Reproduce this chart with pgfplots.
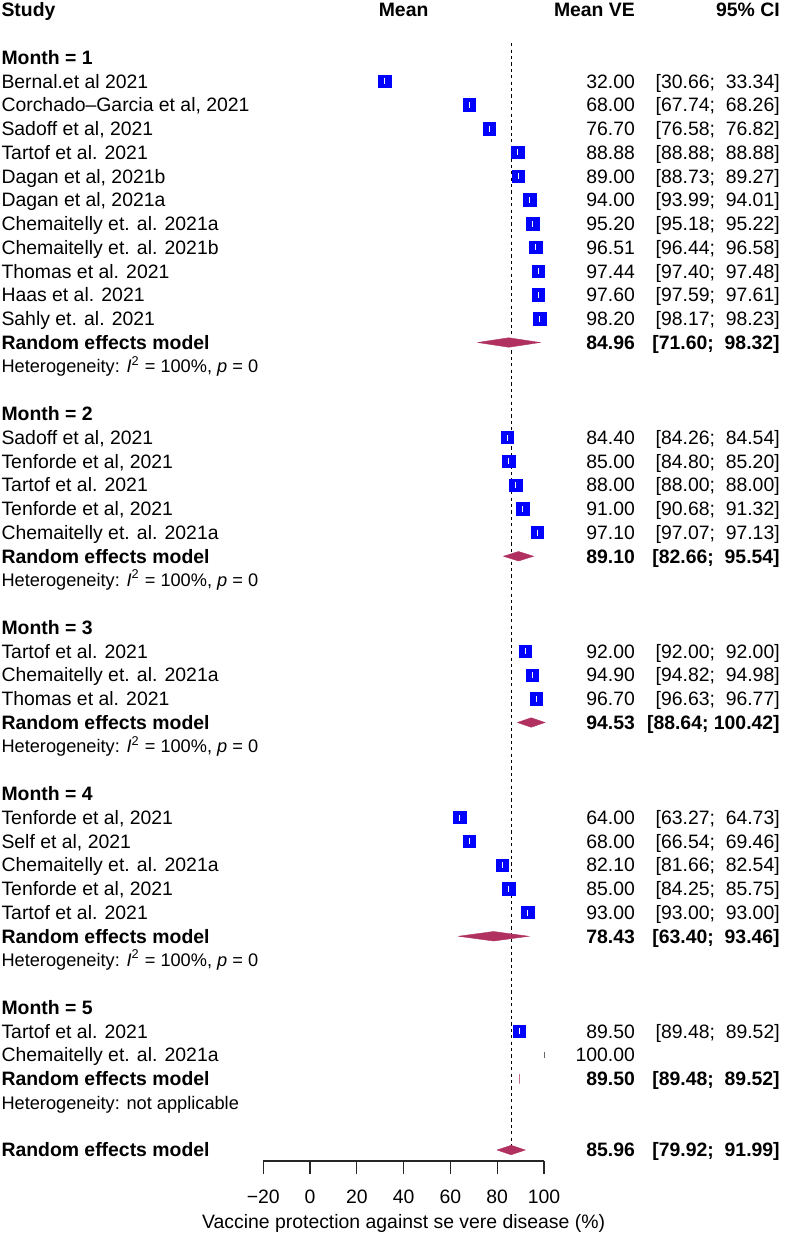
\documentclass[border=0pt]{standalone}
\usepackage{pgfplots}
\pgfplotsset{compat=1.18}
\usepackage{fontspec}
\setmainfont{Liberation Sans}
\definecolor{vblue}{RGB}{0,0,255}
\definecolor{dmaroon}{RGB}{176,48,96}
\newcommand\fs{\fontsize{9.7}{11}\selectfont}
\newcommand\fh{\fontsize{9.1}{10}\selectfont}
\newcommand\St[2]{\node[anchor=base west,yshift=-3.45pt,font=\fs,inner sep=0pt] at (axis cs:-132.0,-#1) {#2};}
\newcommand\Mv[2]{\node[anchor=base east,yshift=-3.45pt,font=\fs,inner sep=0pt] at (axis cs:139.0,-#1) {#2};}
\newcommand\Ci[2]{\node[anchor=base east,yshift=-3.45pt,font=\fs,inner sep=0pt] at (axis cs:200.9,-#1) {#2};}
\newcommand\Het[2]{\node[anchor=base west,yshift=-3.3pt,font=\fh,inner sep=0pt] at (axis cs:-132.0,-#1) {#2};}
\newcommand\HS{Heterogeneity: \textit{I}\textsuperscript{2} = 100\%, \textit{p} = 0}
\begin{document}
\begin{tikzpicture}
\begin{axis}[
  x=1.17pt, y=11.875pt,
  xmin=-20, xmax=100, ymin=-48.46, ymax=0,
  axis x line=bottom, axis y line=none,
  x axis line style={-, line width=0.6pt, black!85},
  clip=false,
  xtick={-20,0,20,40,60,80,100},
  xticklabels={−20,0,20,40,60,80,100},
  tick align=outside, major tick length=6.5pt,
  tick style={line width=0.6pt, black!85},
  xticklabel style={font=\fs, anchor=base, inner sep=0pt, yshift=-15pt},
  xlabel={Vaccine protection against se vere disease (\%)},
  xlabel style={font=\fs, at={(axis description cs:0.5,0)}, anchor=base, inner sep=0pt, yshift=-34pt},
]
% bounding box of the whole picture
\path (axis cs:-132.48,0.421) rectangle (axis cs:202.56,-51.62);

% reference (overall) line
\addplot[black, line width=0.6pt, dash pattern=on 1.6pt off 1.6pt] coordinates {(85.96,-1.4) (85.96,-48.2)};

% study squares
\addplot[only marks, mark=square*, mark size=3.1pt, mark options={fill=vblue, draw=vblue, line width=0.3pt}] coordinates {
(32.00,-3) (68.00,-4) (76.70,-5) (88.88,-6) (89.00,-7) (94.00,-8) (95.20,-9) (96.51,-10) (97.44,-11) (97.60,-12) (98.20,-13)
(84.40,-18) (85.00,-19) (88.00,-20) (91.00,-21) (97.10,-22)
(92.00,-27) (94.90,-28) (96.70,-29)
(64.00,-34) (68.00,-35) (82.10,-36) (85.00,-37) (93.00,-38)
(89.50,-43)
};
% confidence intervals (white, inside squares)
\addplot[draw=none, mark=|, mark size=1.5pt, mark options={white, line width=0.5pt},
  error bars/.cd, x dir=both, x explicit, error mark=none, error bar style={white, line width=0.5pt}] coordinates {
(32.00,-3) +- (1.34,0) (68.00,-4) +- (0.26,0) (76.70,-5) +- (0.12,0) (88.88,-6) +- (0,0) (89.00,-7) +- (0.27,0)
(94.00,-8) +- (0.01,0) (95.20,-9) +- (0.02,0) (96.51,-10) +- (0.07,0) (97.44,-11) +- (0.04,0) (97.60,-12) +- (0.01,0) (98.20,-13) +- (0.03,0)
(84.40,-18) +- (0.14,0) (85.00,-19) +- (0.20,0) (88.00,-20) +- (0,0) (91.00,-21) +- (0.32,0) (97.10,-22) +- (0.03,0)
(92.00,-27) +- (0,0) (94.90,-28) +- (0.08,0) (96.70,-29) +- (0.07,0)
(64.00,-34) +- (0.73,0) (68.00,-35) +- (1.46,0) (82.10,-36) +- (0.44,0) (85.00,-37) +- (0.75,0) (93.00,-38) +- (0,0)
(89.50,-43) +- (0.02,0)
};
% study without CI
\addplot[only marks, mark=|, mark size=1.3pt, mark options={black!60, line width=0.4pt}] coordinates {(100,-44)};

% diamonds
\addplot[fill=dmaroon, draw=dmaroon, line width=0.2pt] coordinates {(71.60,-14) (84.96,-13.8) (98.32,-14) (84.96,-14.2) (71.60,-14)};
\addplot[fill=dmaroon, draw=dmaroon, line width=0.2pt] coordinates {(82.66,-23) (89.10,-22.8) (95.54,-23) (89.10,-23.2) (82.66,-23)};
\addplot[fill=dmaroon, draw=dmaroon, line width=0.2pt] coordinates {(88.64,-30) (94.53,-29.8) (100.42,-30) (94.53,-30.2) (88.64,-30)};
\addplot[fill=dmaroon, draw=dmaroon, line width=0.2pt] coordinates {(63.40,-39) (78.43,-38.8) (93.46,-39) (78.43,-39.2) (63.40,-39)};
\addplot[fill=dmaroon!70, draw=dmaroon!70, line width=0.4pt] coordinates {(89.48,-45) (89.50,-44.8) (89.52,-45) (89.50,-45.2) (89.48,-45)};
\addplot[fill=dmaroon, draw=dmaroon, line width=0.2pt] coordinates {(79.92,-48) (85.96,-47.8) (91.99,-48) (85.96,-48.2) (79.92,-48)};

% headers
\St{0}{\bfseries Study}
\node[anchor=base,yshift=-3.45pt,font=\fs\bfseries,inner sep=0pt] at (axis cs:40,0) {Mean};
\Mv{0}{\bfseries Mean VE}
\Ci{0}{\bfseries 95\% CI}

% Month 1
\St{2}{\bfseries Month = 1}
\St{3}{Bernal.et al 2021}\Mv{3}{32.00}\Ci{3}{[30.66;~~33.34]}
\St{4}{Corchado–Garcia et al, 2021}\Mv{4}{68.00}\Ci{4}{[67.74;~~68.26]}
\St{5}{Sadoff et al, 2021}\Mv{5}{76.70}\Ci{5}{[76.58;~~76.82]}
\St{6}{Tartof et al. 2021}\Mv{6}{88.88}\Ci{6}{[88.88;~~88.88]}
\St{7}{Dagan et al, 2021b}\Mv{7}{89.00}\Ci{7}{[88.73;~~89.27]}
\St{8}{Dagan et al, 2021a}\Mv{8}{94.00}\Ci{8}{[93.99;~~94.01]}
\St{9}{Chemaitelly et. al. 2021a}\Mv{9}{95.20}\Ci{9}{[95.18;~~95.22]}
\St{10}{Chemaitelly et. al. 2021b}\Mv{10}{96.51}\Ci{10}{[96.44;~~96.58]}
\St{11}{Thomas et al. 2021}\Mv{11}{97.44}\Ci{11}{[97.40;~~97.48]}
\St{12}{Haas et al. 2021}\Mv{12}{97.60}\Ci{12}{[97.59;~~97.61]}
\St{13}{Sahly et. al. 2021}\Mv{13}{98.20}\Ci{13}{[98.17;~~98.23]}
\St{14}{\bfseries Random effects model}\Mv{14}{\bfseries 84.96}\Ci{14}{\bfseries [71.60;~~98.32]}
\Het{15}{\HS}

% Month 2
\St{17}{\bfseries Month = 2}
\St{18}{Sadoff et al, 2021}\Mv{18}{84.40}\Ci{18}{[84.26;~~84.54]}
\St{19}{Tenforde et al, 2021}\Mv{19}{85.00}\Ci{19}{[84.80;~~85.20]}
\St{20}{Tartof et al. 2021}\Mv{20}{88.00}\Ci{20}{[88.00;~~88.00]}
\St{21}{Tenforde et al, 2021}\Mv{21}{91.00}\Ci{21}{[90.68;~~91.32]}
\St{22}{Chemaitelly et. al. 2021a}\Mv{22}{97.10}\Ci{22}{[97.07;~~97.13]}
\St{23}{\bfseries Random effects model}\Mv{23}{\bfseries 89.10}\Ci{23}{\bfseries [82.66;~~95.54]}
\Het{24}{\HS}

% Month 3
\St{26}{\bfseries Month = 3}
\St{27}{Tartof et al. 2021}\Mv{27}{92.00}\Ci{27}{[92.00;~~92.00]}
\St{28}{Chemaitelly et. al. 2021a}\Mv{28}{94.90}\Ci{28}{[94.82;~~94.98]}
\St{29}{Thomas et al. 2021}\Mv{29}{96.70}\Ci{29}{[96.63;~~96.77]}
\St{30}{\bfseries Random effects model}\Mv{30}{\bfseries 94.53}\Ci{30}{\bfseries [88.64;~100.42]}
\Het{31}{\HS}

% Month 4
\St{33}{\bfseries Month = 4}
\St{34}{Tenforde et al, 2021}\Mv{34}{64.00}\Ci{34}{[63.27;~~64.73]}
\St{35}{Self et al, 2021}\Mv{35}{68.00}\Ci{35}{[66.54;~~69.46]}
\St{36}{Chemaitelly et. al. 2021a}\Mv{36}{82.10}\Ci{36}{[81.66;~~82.54]}
\St{37}{Tenforde et al, 2021}\Mv{37}{85.00}\Ci{37}{[84.25;~~85.75]}
\St{38}{Tartof et al. 2021}\Mv{38}{93.00}\Ci{38}{[93.00;~~93.00]}
\St{39}{\bfseries Random effects model}\Mv{39}{\bfseries 78.43}\Ci{39}{\bfseries [63.40;~~93.46]}
\Het{40}{\HS}

% Month 5
\St{42}{\bfseries Month = 5}
\St{43}{Tartof et al. 2021}\Mv{43}{89.50}\Ci{43}{[89.48;~~89.52]}
\St{44}{Chemaitelly et. al. 2021a}\Mv{44}{100.00}
\St{45}{\bfseries Random effects model}\Mv{45}{\bfseries 89.50}\Ci{45}{\bfseries [89.48;~~89.52]}
\Het{46}{Heterogeneity: not applicable}

% overall
\St{48}{\bfseries Random effects model}\Mv{48}{\bfseries 85.96}\Ci{48}{\bfseries [79.92;~~91.99]}
\end{axis}
\end{tikzpicture}
\end{document}
